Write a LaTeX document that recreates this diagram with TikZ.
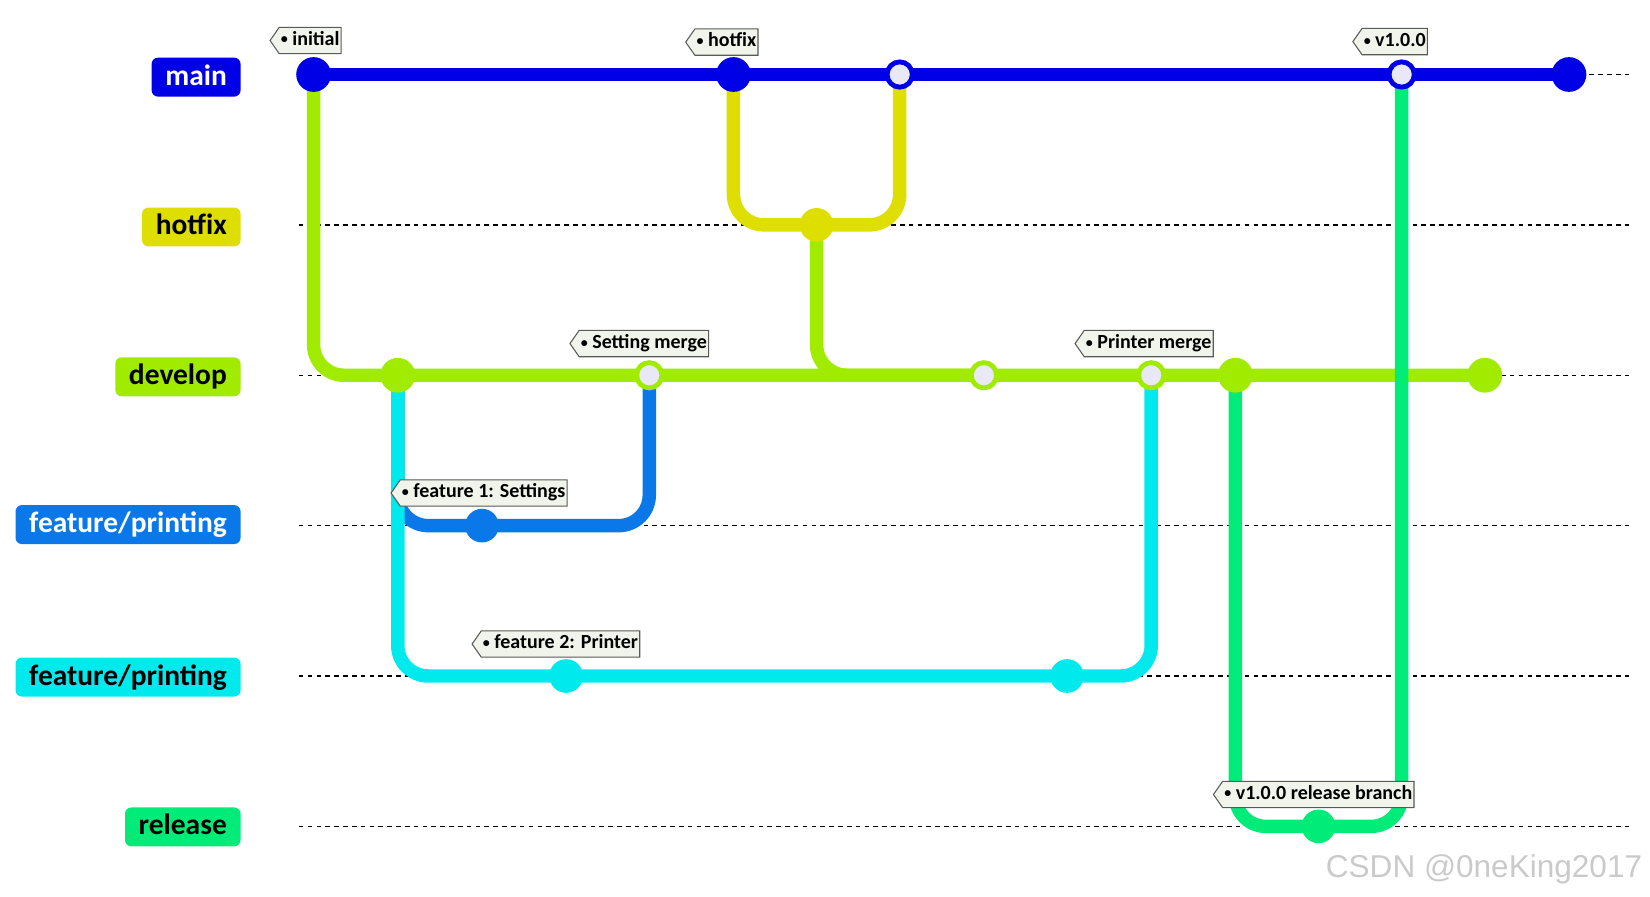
\documentclass[tikz,border=0pt]{standalone}
\usepackage{fontspec}
\setmainfont{Carlito}
\newfontfamily\wmfont{Liberation Sans}
\usetikzlibrary{shapes.symbols}
\definecolor{cmain}{HTML}{0000E6}
\definecolor{chot}{HTML}{DEDE00}
\definecolor{cdev}{HTML}{A0EB00}
\definecolor{cfa}{HTML}{0A78E8}
\definecolor{cfb}{HTML}{00EAEE}
\definecolor{crel}{HTML}{00EB78}
\definecolor{chollow}{HTML}{E8E8F6}
\definecolor{ctag}{HTML}{F0F4EA}
\definecolor{cwm}{HTML}{CACACA}
\newcommand{\tagdot}{\raisebox{0.6pt}{\scalebox{0.7}{\textbullet}}}
\begin{document}
\begin{tikzpicture}[x=0.5pt,y=-0.5pt,
  laneline/.style={line width=0.7pt, dash pattern=on 2.2pt off 2pt},
  branch/.style={line width=6.4pt, rounded corners=14.5pt},
  commit/.style={circle, fill=#1, inner sep=0pt, minimum size=16pt},
  hollow/.style={circle, fill=chollow, draw=#1, line width=2.3pt, inner sep=0pt, minimum size=12pt},
  tagbox/.style={signal, signal to=west, signal pointer angle=110, draw=black!65, fill=ctag,
    line width=0.5pt, font=\fontsize{9.5}{10}\selectfont\bfseries, text height=4.5pt, text depth=0pt,
    minimum height=12.5pt, inner ysep=0pt, inner xsep=0.8pt, anchor=west},
  lanebox/.style={rounded corners=3pt, fill=#1, font=\fontsize{14}{15}\selectfont\bfseries,
    text height=7.6pt, text depth=0pt, minimum height=18.5pt, inner ysep=0pt, inner xsep=6.5pt, anchor=east}
]
\useasboundingbox (0,0) rectangle (1568,852.4);
\def\yMain{70.8}
\def\yHot{213.7}
\def\yDev{356.6}
\def\yFa{499.5}
\def\yFb{642.4}
\def\yRel{785.3}
% lane lines
\foreach \n/\yy in {a/\yMain,b/\yHot,c/\yDev,d/\yFa,e/\yFb,f/\yRel}{
  \coordinate (s\n) at (284,\yy);
  \coordinate (e\n) at (1552,\yy);
  \draw[laneline] (s\n) -- (e\n);
}
% commit positions
\coordinate (m1) at (298,\yMain);
\coordinate (m2) at (697,\yMain);
\coordinate (m3) at (855,\yMain);
\coordinate (m4) at (1332,\yMain);
\coordinate (m5) at (1491,\yMain);
\coordinate (h1) at (776,\yHot);
\coordinate (d1) at (378,\yDev);
\coordinate (d2) at (617,\yDev);
\coordinate (d3) at (935,\yDev);
\coordinate (d4) at (1094,\yDev);
\coordinate (d5) at (1174,\yDev);
\coordinate (d6) at (1411,\yDev);
\coordinate (fa1) at (458,\yFa);
\coordinate (fb1) at (538,\yFb);
\coordinate (fb2) at (1014,\yFb);
\coordinate (r1) at (1253,\yRel);
% branches
\draw[branch, cmain] (m1) -- (m5);
\draw[branch, chot] (m2) |- (h1) -| (m3);
\draw[branch, cdev] (m1) |- (d6);
\draw[branch, cdev] (h1) |- (d3);
\draw[branch, cfa] (d1) |- (fa1) -| (d2);
\draw[branch, cfb] (d1) |- (fb1) -| (d4);
\draw[branch, crel] (d5) |- (r1) -| (m4);
% commits
\node[commit=cmain, minimum size=16.5pt] (cm1) at (m1) {};
\node[commit=cmain, minimum size=16.5pt] (cm2) at (m2) {};
\node[hollow=cmain] (cm3) at (m3) {};
\node[hollow=cmain] (cm4) at (m4) {};
\node[commit=cmain, minimum size=16.5pt] (cm5) at (m5) {};
\node[commit=chot] (ch1) at (h1) {};
\node[commit=cdev, minimum size=16.5pt] (cd1) at (d1) {};
\node[hollow=cdev] (cd2) at (d2) {};
\node[hollow=cdev] (cd3) at (d3) {};
\node[hollow=cdev] (cd4) at (d4) {};
\node[commit=cdev, minimum size=16.5pt] (cd5) at (d5) {};
\node[commit=cdev, minimum size=16.5pt] (cd6) at (d6) {};
\node[commit=cfa] (cfa1) at (fa1) {};
\node[commit=cfb] (cfb1) at (fb1) {};
\node[commit=cfb] (cfb2) at (fb2) {};
\node[commit=crel] (cr1) at (r1) {};
% tags
\node[tagbox] (t1) at (256,38.5) {\tagdot\ initial\hspace{3pt}};
\node[tagbox] (t2) at (651,40) {\tagdot\ hotfix\hspace{3pt}};
\node[tagbox] (t3) at (1285,39.5) {\tagdot\ v1.0.0\hspace{3pt}};
\node[tagbox] (t4) at (541,326.5) {\tagdot\ Setting merge\hspace{3pt}};
\node[tagbox] (t5) at (1021,326.5) {\tagdot\ Printer merge\hspace{3pt}};
\node[tagbox] (t6) at (371,468.5) {\tagdot\ feature 1: Settings\hspace{3pt}};
\node[tagbox] (t7) at (448,612) {\tagdot\ feature 2: Printer\hspace{3pt}};
\node[tagbox] (t8) at (1152.5,755) {\tagdot\ v1.0.0 release branch\hspace{2pt}};
% lane labels
\node[lanebox=cmain, text=white] (lmain) at (229,\yMain+2.5) {main};
\node[lanebox=chot] (lhot) at (229,\yHot+2) {hotfix};
\node[lanebox=cdev] (ldev) at (229,\yDev+1.5) {develop};
\node[lanebox=cfa, text=white] (lfa) at (229,\yFa-1) {feature/printing};
\node[lanebox=cfb] (lfb) at (229,\yFb+1) {feature/printing};
\node[lanebox=crel] (lrel) at (229,\yRel+0.5) {release};
% watermark
\node[font=\wmfont\fontsize{15}{16}\selectfont, text=cwm, anchor=base east, inner sep=0pt] (wm) at (1561,833.7) {CSDN @0neKing2017};
\end{tikzpicture}
\end{document}
